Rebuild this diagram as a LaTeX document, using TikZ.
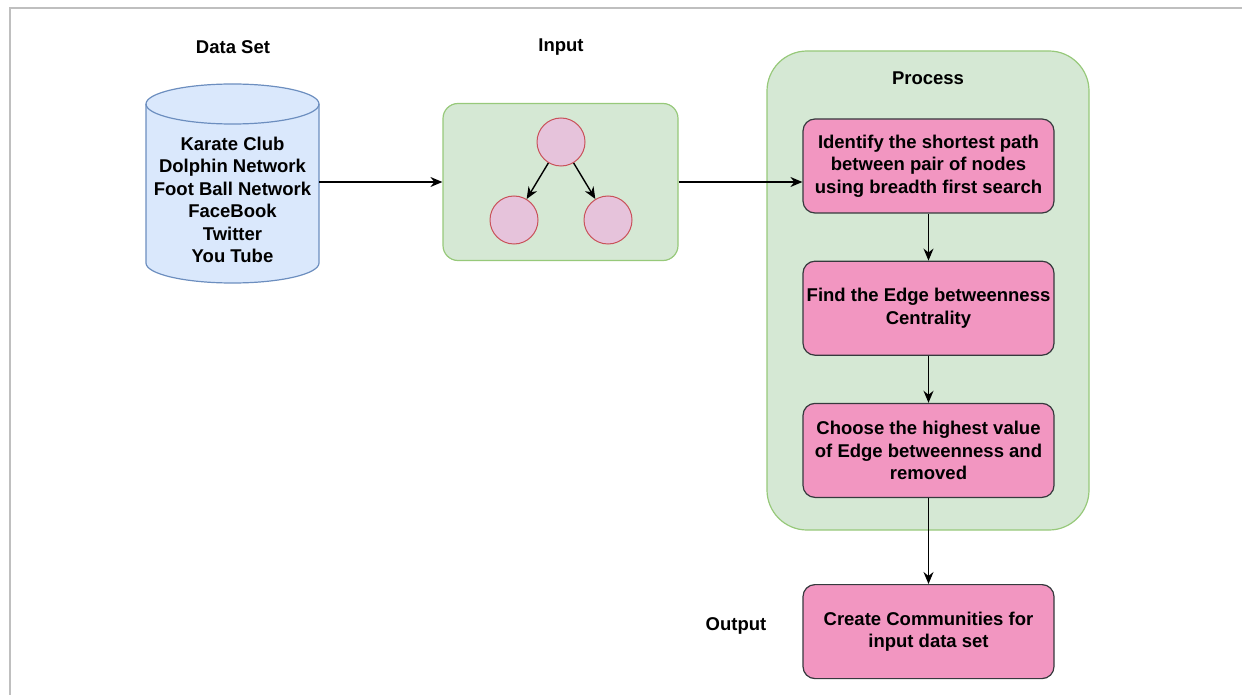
\documentclass[tikz,border=0pt]{standalone}
\usepackage{fontspec}
\setmainfont{Liberation Sans}
\usetikzlibrary{arrows.meta,positioning}

\definecolor{dbfill}{HTML}{DAE8FC}
\definecolor{dbline}{HTML}{6C8EBF}
\definecolor{grpfill}{HTML}{D5E8D4}
\definecolor{grpline}{HTML}{97C97A}
\definecolor{steppink}{HTML}{F296C1}
\definecolor{stepline}{HTML}{36393D}
\definecolor{vertfill}{HTML}{E6C3DB}
\definecolor{vertline}{HTML}{C9525A}

\begin{document}
\begin{tikzpicture}[x=1pt, y=-1pt,
  every node/.style={font=\bfseries\fontsize{18.5}{22.5}\selectfont},
  group/.style={draw=grpline, fill=grpfill, line width=1.2pt, inner sep=0pt},
  stepbox/.style={draw=stepline, fill=steppink, line width=1.2pt, rounded corners=12pt,
    minimum width=251pt, minimum height=94pt, align=center, inner sep=0pt},
  vertex/.style={circle, draw=vertline, fill=vertfill, line width=1pt, minimum size=48pt, inner sep=0pt},
  flow/.style={-{Stealth[length=12pt,width=10pt]}, line width=1.4pt, black}]
  \useasboundingbox (0,0) rectangle (1242,695);

  % frame
  \draw[black!25, line width=2pt] (10,695) -- (10,8) -- (1242,8);

  % data set cylinder
  \draw[draw=dbline, fill=dbfill, line width=1.2pt]
    (146,104) -- (146,263) arc (180:0:86.5 and 20) -- (319,104) arc (0:-180:86.5 and 20) -- cycle;
  \draw[dbline, line width=1.2pt] (146,104) arc (180:0:86.5 and 20);
  \node[minimum width=173pt, minimum height=159pt, inner sep=0pt] (db) at (232.5,182) {};
  \node[align=center] (dbtext) at (232.5,200) {Karate Club\\Dolphin Network\\Foot Ball Network\\FaceBook\\Twitter\\You Tube};
  \node (dstitle) at (233,47) {Data Set};

  % input graph
  \node[group, rounded corners=15pt, minimum width=235pt, minimum height=157pt] (inbox) at (560.5,182) {};
  \node (intitle) at (561,47) {Input};
  \node[vertex] (top) at (561,142) {};
  \node[vertex] (left) at (514,220) {};
  \node[vertex] (right) at (608,220) {};
  \draw[flow] (top) -- (left);
  \draw[flow] (top) -- (right);

  % process steps
  \node[group, rounded corners=40pt, minimum width=322pt, minimum height=479pt] (proc) at (928,290.5) {};
  \node (proctitle) at (928,78) {Process};
  \node[stepbox] (s1) at (928.5,166) {Identify the shortest path\\between pair of nodes\\using breadth first search};
  \node[stepbox, below=47pt of s1] (s2) {Find the Edge betweenness\\Centrality};
  \node[stepbox, below=47pt of s2] (s3) {Choose the highest value\\of Edge betweenness and\\removed};
  \node[stepbox, below=86pt of s3] (out) {Create Communities for\\input data set};
  \node (outtitle) at (736,626) {Output};

  % connectors
  \draw[flow] (db.east) -- (inbox.west);
  \draw[flow] (inbox.east) -- (inbox.east -| s1.west);
  \draw[flow] (s1) -- (s2);
  \draw[flow] (s2) -- (s3);
  \draw[flow] (s3) -- (out);
\end{tikzpicture}
\end{document}
